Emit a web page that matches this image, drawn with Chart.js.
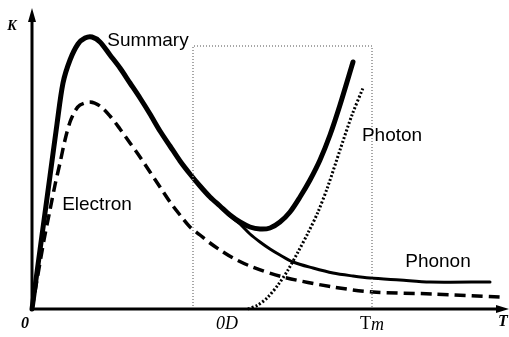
<!DOCTYPE html>
<html>
<head>
<meta charset="utf-8">
<script src="https://cdn.jsdelivr.net/npm/chart.js@4.4.0/dist/chart.umd.min.js"></script>
<style>
  html, body { margin: 0; padding: 0; background: #fff; }
  canvas { display: block; }
</style>
</head>
<body>
<canvas id="chart" width="509" height="337"></canvas>
<script>
// values (T along x, K along y, arbitrary units)
const summaryPts = [[0,0],[8,59],[18,133],[25,185],[31,226],[38,249],[46,265],[53,271],[60,272],[68,267],[78,254],[88,241],[98,226],[108,211],[118,195],[128,178],[138,163],[148,148],[158,135],[168,123],[178,112],[188,103],[198,94],[208,87],[218,82],[228,80],[238,81],[248,87],[258,97],[268,112],[278,129],[288,149],[298,174],[308,204],[321,247]];
const electronPts = [[0,0],[5,29],[12,69],[18,99],[23,124],[28,146],[33,169],[38,187],[43,198],[48,204],[58,207],[68,203],[78,193],[88,180],[98,166],[108,152],[118,137],[128,122],[138,107],[148,94],[158,82],[168,74],[178,66],[188,59],[201,51],[218,43],[251,32],[301,22],[341,17],[401,15],[468,12]];
const phononPts = [[188,103],[198,93],[208,85],[218,75],[228,67],[238,60],[248,54],[261,47],[281,41],[301,36],[321,33],[338,31],[368,29],[398,27],[458,27]];
const photonPts = [[216,0],[226,4],[236,12],[246,24],[256,39],[266,57],[276,76],[286,97],[296,123],[308,159],[320,194],[331,221]];
const regionPts = [[161,0],[161,263],[340,263],[340,0]];

const tickLabels = ['0', '0D', 'Tm', 'T'];
const tickValues = [0, 195, 340, 471];

const toXY = pts => pts.map(p => ({x: p[0], y: p[1]}));

const drawExtras = {
    id: 'drawExtras',
    afterDatasetsDraw(chart) {
        const {ctx, scales: {x, y}} = chart;
        const x0 = x.getPixelForValue(0), y0 = y.getPixelForValue(0);
        const xEnd = x.getPixelForValue(x.max), yEnd = y.getPixelForValue(y.max);
        ctx.save();
        ctx.strokeStyle = '#000';
        ctx.fillStyle = '#000';
        ctx.lineWidth = 3;
        // axes
        ctx.beginPath();
        ctx.moveTo(x0, y0); ctx.lineTo(x0, yEnd + 8);
        ctx.moveTo(x0, y0); ctx.lineTo(xEnd - 8, y0);
        ctx.stroke();
        ctx.beginPath();
        ctx.moveTo(x0, yEnd - 1); ctx.lineTo(x0 - 4, yEnd + 13); ctx.lineTo(x0 + 4, yEnd + 13); ctx.closePath();
        ctx.moveTo(xEnd, y0); ctx.lineTo(xEnd - 13, y0 - 4); ctx.lineTo(xEnd - 13, y0 + 4); ctx.closePath();
        ctx.fill();

        // axis names and ticks
        ctx.textBaseline = 'middle';
        ctx.textAlign = 'center';
        ctx.font = 'italic bold 14px "Liberation Serif"';
        ctx.fillText('K', x0 - 20, y.getPixelForValue(283));
        tickLabels.forEach((t, i) => {
            const px = x.getPixelForValue(tickValues[i]);
            if (i === 0) {
                ctx.font = 'italic bold 16px "Liberation Serif"';
                ctx.fillText(t, px - 7, y0 + 15);
            } else if (i === 3) {
                ctx.font = 'italic bold 16px "Liberation Serif"';
                ctx.fillText(t, px, y0 + 13);
            } else if (t === 'Tm') {
                // upright T, italic m
                ctx.textAlign = 'left';
                ctx.font = '18px "Liberation Serif"';
                const w1 = ctx.measureText('T').width;
                ctx.font = 'italic 18px "Liberation Serif"';
                const w2 = ctx.measureText('m').width;
                const left = px - (w1 + w2) / 2;
                ctx.font = '18px "Liberation Serif"';
                ctx.fillText('T', left, y0 + 15);
                ctx.font = 'italic 18px "Liberation Serif"';
                ctx.fillText('m', left + w1, y0 + 16);
                ctx.textAlign = 'center';
            } else {
                ctx.font = 'italic 18px "Liberation Serif"';
                ctx.fillText(t, px, y0 + 15);
            }
        });

        // curve names
        ctx.font = '19px "Liberation Sans"';
        const names = {Summary: [116, 268], Electron: [65, 104], Photon: [360, 173], Phonon: [406, 47]};
        Object.keys(names).forEach(n => {
            ctx.fillText(n, x.getPixelForValue(names[n][0]), y.getPixelForValue(names[n][1]));
        });
        ctx.restore();
    }
};

const canvas = document.getElementById('chart');

const curve = {pointRadius: 0, tension: 0.3, clip: false, borderColor: '#000', borderCapStyle: 'round'};

const chart = new Chart(canvas, {
    type: 'line',
    data: {
        datasets: [
            {
                label: 'Region',
                data: toXY(regionPts),
                borderColor: '#8a8a8a',
                borderWidth: 1.5,
                borderDash: [1, 2],
                pointRadius: 0,
                tension: 0,
                clip: false
            },
            Object.assign({label: 'Phonon', data: toXY(phononPts), borderWidth: 3}, curve),
            Object.assign({label: 'Electron', data: toXY(electronPts), borderWidth: 3.5}, curve, {borderDash: [11, 6], borderCapStyle: 'butt'}),
            Object.assign({label: 'Photon', data: toXY(photonPts), borderWidth: 3}, curve, {borderDash: [2, 2], borderCapStyle: 'butt'}),
            Object.assign({label: 'Summary', data: toXY(summaryPts), borderWidth: 5}, curve)
        ]
    },
    options: {
        responsive: false,
        animation: false,
        devicePixelRatio: 1,
        layout: {padding: {left: 32, right: 0, top: 9, bottom: 28}},
        plugins: {legend: {display: false}, tooltip: {enabled: false}},
        scales: {
            x: {type: 'linear', display: false, min: 0, max: 477},
            y: {type: 'linear', display: false, min: 0, max: 300}
        }
    },
    plugins: [drawExtras]
});
</script>
</body>
</html>
